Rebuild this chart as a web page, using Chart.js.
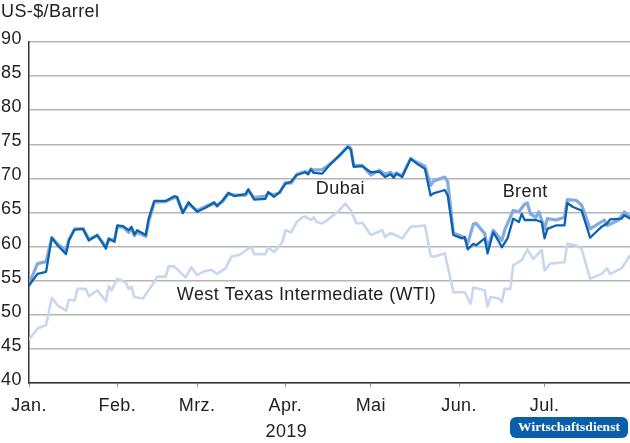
<!DOCTYPE html>
<html>
<head>
<meta charset="utf-8">
<script src="https://cdn.jsdelivr.net/npm/chart.js@4"></script>
<style>
  body { margin: 0; background: #fff; }
  #wrap { width: 630px; height: 443px; }
</style>
</head>
<body>
<div id="wrap"><canvas id="oilChart" width="630" height="443"></canvas></div>
<script>
// day of year 2019 (0 = 1 Jan) and price in US-$/Barrel
const monthDays = [0, 31, 59, 90, 120, 151, 181];
const monthLabels = ["Jan.", "Feb.", "Mrz.", "Apr.", "Mai", "Jun.", "Jul."];
const yearLabel = "2019";

const dubaiDays = [0,3,6,8,10,13,14,16,19,21,24,27,28,30,31,33,35,36,37,38,41,42,44,48,51,52,53,54,56,59,62,65,66,68,70,72,76,77,79,83,84,86,88,90,92,94,97,98,99,100,103,105,109,112,113,114,117,120,123,125,127,128,129,131,134,136,139,141,142,146,147,149,152,153,154,156,157,160,161,163,165,166,168,170,172,173,174,176,178,180,181,182,185,188,189,191,194,197,199,201,203,204,208,209,211];
const dubai = [54.3,56.0,56.3,61.3,60.2,58.9,60.9,62.5,62.6,60.9,61.7,59.7,61.2,60.7,63.1,63.0,62.4,62.9,61.8,62.4,61.7,64.1,66.7,66.7,67.4,67.3,66.1,64.9,66.5,65.1,65.7,66.5,65.9,66.8,67.9,67.4,67.7,68.4,66.9,67.0,68.0,67.3,68.0,69.2,69.5,70.5,70.9,70.6,71.3,70.8,70.7,71.7,73.4,74.6,74.2,71.7,71.8,70.9,71.0,70.2,70.6,70.1,70.7,70.2,72.9,72.2,71.4,67.5,67.8,68.3,67.5,61.7,61.2,61.4,59.6,60.4,60.2,61.2,59.0,62.1,60.7,59.9,61.2,64.1,63.6,64.8,63.9,63.9,63.9,63.6,61.2,62.6,63.1,63.1,66.4,65.8,65.3,61.3,62.1,62.9,63.4,64.0,64.1,64.6,64.1];

const brentDays = [0,3,6,8,10,13,14,16,19,21,24,27,28,30,31,33,35,36,37,38,41,42,44,48,51,52,53,54,56,59,62,65,66,68,70,72,76,77,79,83,84,86,88,90,92,94,97,98,99,100,103,105,109,112,113,114,117,120,123,125,127,128,129,131,134,136,139,141,142,146,147,149,152,153,154,156,157,160,161,163,166,167,170,172,174,175,176,178,179,181,182,185,188,189,192,194,197,199,202,203,207,209,211];
const brent = [54.5,57.5,57.8,61.3,60.4,59.4,61.0,62.6,62.6,61.1,61.6,60.0,61.0,61.0,62.9,62.9,62.1,62.6,61.6,62.1,61.5,63.6,66.5,66.6,67.2,67.1,66.0,65.1,66.2,65.3,65.9,66.3,66.1,66.6,67.7,67.6,67.5,68.2,67.2,67.4,67.8,67.6,67.9,69.4,69.3,70.6,71.0,70.8,71.4,71.2,71.3,71.9,73.3,74.8,74.4,71.9,71.9,70.5,71.2,70.6,70.9,70.4,70.8,70.4,72.9,72.4,71.8,69.0,69.6,70.2,69.5,62.0,61.5,61.2,60.4,63.3,63.4,61.9,59.7,62.4,60.9,62.4,65.3,65.1,66.2,66.4,64.8,64.3,65.1,62.6,64.1,63.9,64.3,66.9,66.8,66.1,62.6,63.1,63.9,63.1,63.9,65.1,64.3];

const wtiDays = [0,3,6,8,10,13,14,16,17,20,21,24,27,28,29,31,34,35,36,37,40,44,45,48,49,51,53,55,57,59,61,64,66,69,71,74,78,79,83,84,86,89,90,92,94,96,97,99,100,101,103,105,109,111,113,115,117,120,124,125,127,131,134,139,141,142,146,149,153,155,156,160,161,162,165,166,167,169,170,171,173,175,177,180,181,183,188,189,192,194,197,201,203,204,208,211];
const wti = [46.4,48.0,48.5,52.5,51.4,50.6,52.2,52.1,53.8,53.8,52.7,53.6,52.0,54.2,53.6,55.3,54.7,53.8,54.1,52.6,52.4,54.8,55.6,55.6,57.1,57.1,56.3,55.5,57.0,55.8,56.3,56.6,56.0,56.8,58.5,58.8,60.0,58.9,58.9,59.9,59.2,60.7,62.4,62.1,63.6,64.3,64.4,63.9,64.3,63.6,63.4,64.0,65.3,66.3,65.3,63.4,63.5,61.7,62.4,61.4,62.0,61.2,62.9,63.1,58.7,58.5,59.0,53.3,53.3,51.6,54.0,53.6,51.2,52.6,52.4,51.9,53.8,53.8,57.3,57.5,58.0,59.6,58.2,59.5,56.5,57.5,57.7,60.4,60.2,59.7,55.3,56.0,56.8,56.0,56.8,58.7];

const seriesLabels = [
    { text: "Dubai", day: 100.7, value: 68.5 },
    { text: "Brent", day: 166.3, value: 68.0 },
    { text: "West Texas Intermediate (WTI)", day: 51.9, value: 52.9 }
];

const FONT = '"Liberation Sans", Arial, Helvetica, sans-serif';
const FONT_SIZE = 18;

function toPoints(days, values) {
    return days.map((d, i) => ({ x: d, y: values[i] }));
}

const textPlugin = {
    id: "texts",
    beforeDraw(chart) {
        // reference type runs a little wider than Arial
        chart.ctx.letterSpacing = "0.4px";
    },
    afterDraw(chart) {
        const { ctx, scales: { x, y } } = chart;
        ctx.save();
        ctx.fillStyle = "#222";
        ctx.font = `${FONT_SIZE}px ${FONT}`;
        ctx.textBaseline = "middle";
        ctx.textAlign = "left";
        for (const lbl of seriesLabels) {
            ctx.fillText(lbl.text, x.getPixelForValue(lbl.day), y.getPixelForValue(lbl.value));
        }
        ctx.fillText("US-$/Barrel", 1, 12);
        ctx.textAlign = "center";
        ctx.fillText(yearLabel, x.getPixelForValue(monthDays[3]) + 1, 432);

        // publisher badge
        ctx.letterSpacing = "0px";
        ctx.fillStyle = "#0b5fa9";
        ctx.beginPath();
        ctx.roundRect(510, 417, 118, 21, 6);
        ctx.fill();
        ctx.fillStyle = "#fff";
        ctx.font = 'bold 13.5px "Liberation Serif", "Times New Roman", serif';
        ctx.fillText("Wirtschaftsdienst", 569, 428);
        ctx.restore();
    }
};

new Chart(document.getElementById("oilChart"), {
    type: "line",
    data: {
        datasets: [
            { label: "Dubai", data: toPoints(dubaiDays, dubai), borderColor: "#0c63ad", borderWidth: 2.3 },
            { label: "Brent", data: toPoints(brentDays, brent), borderColor: "#82abdf", borderWidth: 3.2 },
            { label: "WTI", data: toPoints(wtiDays, wti), borderColor: "#c7d7ef", borderWidth: 2.6 }
        ]
    },
    options: {
        responsive: false,
        animation: false,
        events: [],
        layout: { padding: { top: 42, left: 1, right: 0, bottom: 0 } },
        elements: {
            point: { radius: 0 },
            line: { tension: 0, borderJoinStyle: "round", borderCapStyle: "round" }
        },
        plugins: {
            legend: { display: false },
            tooltip: { enabled: false }
        },
        scales: {
            x: {
                type: "linear",
                min: 0,
                max: 211,
                afterBuildTicks: scale => {
                    scale.ticks = monthDays.map(v => ({ value: v }));
                },
                afterFit: scale => { scale.height = 60; },
                ticks: {
                    autoSkip: false,
                    maxRotation: 0,
                    padding: 8,
                    color: "#222",
                    font: { family: FONT, size: FONT_SIZE },
                    callback: v => monthLabels[monthDays.indexOf(v)]
                },
                grid: { drawOnChartArea: false, drawTicks: true, tickLength: 4, color: "#999" },
                border: { color: "#333", width: 1.5 }
            },
            y: {
                min: 40,
                max: 90,
                afterFit: scale => { scale.width = 28; },
                ticks: {
                    stepSize: 5,
                    crossAlign: "far",
                    labelOffset: -3,
                    color: "#222",
                    font: { family: FONT, size: FONT_SIZE }
                },
                grid: { color: "#b5b5b5", lineWidth: 1.5, drawTicks: false },
                border: { color: "#333", width: 1.5 }
            }
        }
    },
    plugins: [textPlugin]
});
</script>
</body>
</html>
